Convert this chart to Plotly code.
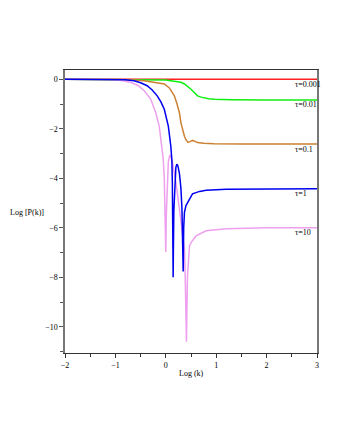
import plotly.graph_objects as go

# log(k) / log(P(k)) values
x_red = [-2, 3]
y_red = [0, 0]

x_green = [-2, -1, -0.5, 0, 0.1, 0.2, 0.3, 0.37, 0.45, 0.5, 0.57, 0.63, 0.7, 0.76, 0.85, 0.96, 1.3, 2, 3]
y_green = [0, 0, -0.01, -0.03, -0.06, -0.09, -0.12, -0.19, -0.3, -0.4, -0.54, -0.67, -0.72, -0.76, -0.79, -0.81, -0.83, -0.84, -0.84]

x_orange = [-2, -1, -0.7, -0.43, -0.2, -0.03, 0.07, 0.17, 0.22, 0.27, 0.3, 0.33, 0.37, 0.4, 0.44,
            0.48, 0.53, 0.58, 0.63, 0.75, 0.96, 1.5, 3]
y_orange = [0, 0, -0.02, -0.06, -0.12, -0.19, -0.35, -0.67, -0.98, -1.35, -1.76, -2.03, -2.3, -2.44, -2.55,
            -2.52, -2.47, -2.51, -2.55, -2.58, -2.6, -2.61, -2.61]

x_blue = [-2, -1.2, -1, -0.8, -0.63, -0.5, -0.37, -0.27, -0.17, -0.1, -0.03, 0.02, 0.05, 0.1, 0.12,
          0.13, 0.14, 0.146, 0.15, 0.16, 0.18, 0.2, 0.22, 0.24, 0.27, 0.3, 0.32, 0.335, 0.345, 0.355,
          0.37, 0.4, 0.47, 0.53, 0.67, 0.8, 1.2, 2, 3]
y_blue = [0, 0, -0.01, -0.02, -0.06, -0.14, -0.26, -0.43, -0.67, -0.9, -1.21, -1.6, -1.89, -2.71, -3.25,
          -4.2, -6.0, -8.0, -7.0, -5.3, -4.0, -3.55, -3.43, -3.5, -3.8, -4.4, -5.2, -6.3, -7.77, -6.0,
          -5.38, -5.1, -4.83, -4.63, -4.53, -4.48, -4.44, -4.42, -4.42]

x_pink = [-2, -1.4, -1.1, -0.9, -0.7, -0.55, -0.43, -0.3, -0.2, -0.13, -0.08, -0.05, -0.03, -0.015,
          -0.005, 0.0, 0.01, 0.03, 0.05, 0.08, 0.1, 0.13, 0.2, 0.27, 0.33, 0.37, 0.385, 0.4, 0.41, 0.42,
          0.43, 0.47, 0.5, 0.6, 0.8, 1.2, 2, 3]
y_pink = [0, 0, -0.01, -0.04, -0.12, -0.25, -0.46, -0.8, -1.35, -1.89, -2.71, -3.25, -4.0, -5.0,
          -6.2, -6.98, -5.5, -4.0, -3.35, -3.06, -3.1, -3.33, -4.15, -5.24, -6.33, -6.87, -7.96, -9.5, -10.6, -9.2,
          -7.96, -6.73, -6.6, -6.33, -6.12, -6.04, -6.0, -6.0]

labels = ["τ=0.001", "τ=0.01", "τ=0.1", "τ=1", "τ=10"]
label_y = [-0.19, -1.03, -2.82, -4.62, -6.2]

font = "Liberation Serif"

fig = go.Figure()
fig.add_trace(go.Scatter(x=x_red, y=y_red, mode="lines", line=dict(color="#ff2020", width=1.5)))
fig.add_trace(go.Scatter(x=x_green, y=y_green, mode="lines", line=dict(color="#10ee10", width=1.5)))
fig.add_trace(go.Scatter(x=x_orange, y=y_orange, mode="lines", line=dict(color="#cc8033", width=1.5)))
fig.add_trace(go.Scatter(x=x_pink, y=y_pink, mode="lines", line=dict(color="#eea0ee", width=1.5)))
fig.add_trace(go.Scatter(x=x_blue, y=y_blue, mode="lines", line=dict(color="#0000f0", width=1.5)))

for t, yy in zip(labels, label_y):
    fig.add_annotation(x=2.53, y=yy, xref="x", yref="y", text=t, showarrow=False,
                       xanchor="left", yanchor="middle", font=dict(family=font, size=8, color="black"))

fig.add_annotation(x=0.5, y=-0.05, xref="paper", yref="paper", text="Log (k)", showarrow=False,
                   xanchor="center", yanchor="top", font=dict(family=font, size=8, color="black"))
fig.add_annotation(x=-0.075, y=0.495, xref="paper", yref="paper", text="Log [P(k)]", showarrow=False,
                   xanchor="right", yanchor="middle", font=dict(family=font, size=8, color="black"))

fig.update_xaxes(range=[-2, 3], tickvals=[-2, -1, 0, 1, 2, 3], showgrid=False, zeroline=False,
                 showline=True, linecolor="#333", linewidth=1, mirror=True,
                 ticks="outside", ticklen=4, tickcolor="#333",
                 minor=dict(ticks="outside", ticklen=3, dtick=0.5, tick0=0, tickcolor="#333"),
                 tickfont=dict(family=font, size=8, color="black"))
fig.update_yaxes(range=[-11.06, 0.376], tickvals=[0, -2, -4, -6, -8, -10], showgrid=False, zeroline=False,
                 showline=True, linecolor="#777", linewidth=1.5, mirror=True,
                 ticks="outside", ticklen=4, tickcolor="#555",
                 minor=dict(ticks="outside", ticklen=3, dtick=1, tick0=0, tickcolor="#555"),
                 tickfont=dict(family=font, size=8, color="black"))

# page body adds ~8px offset, so shift margins to keep the plot box where it is in the reference
fig.update_layout(width=340, height=440, showlegend=False,
                  margin=dict(l=57, r=31, t=62, b=95),
                  plot_bgcolor="white", paper_bgcolor="white")

fig.write_html("out.html")
